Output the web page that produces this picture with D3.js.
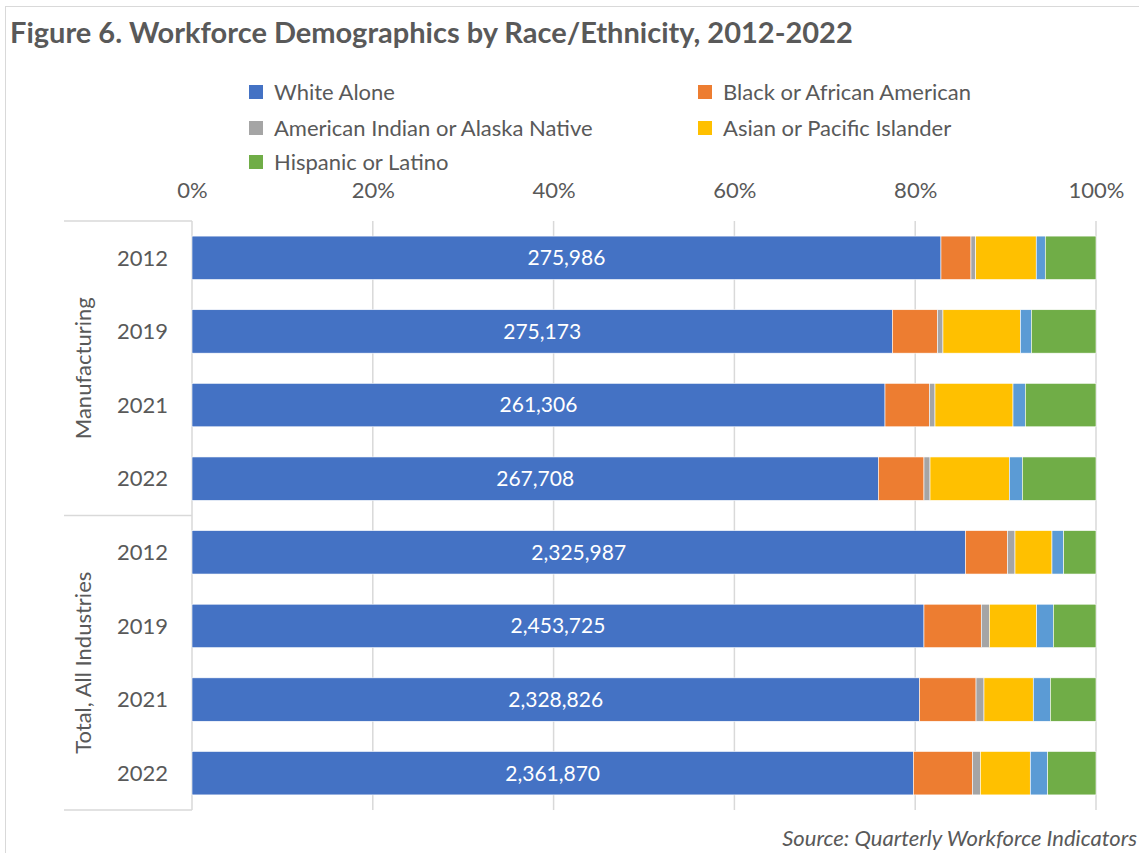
<!DOCTYPE html>
<html>
<head>
<meta charset="utf-8">
<script src="https://cdn.jsdelivr.net/npm/d3@7"></script>
<style>
  body { margin: 0; background: #fff; }
  svg text { font-family: Lato, "Open Sans", sans-serif; fill: #595959; }
</style>
</head>
<body>
<div id="chart"></div>
<script>
// rows, top to bottom
var groups = ["Manufacturing", "Total, All Industries"];
var rowYears = ["2012", "2019", "2021", "2022", "2012", "2019", "2021", "2022"];

// share of workforce, percent
var seriesNames = ["White Alone", "Black or African American", "American Indian or Alaska Native",
                   "Asian or Pacific Islander", "Two or More Races", "Hispanic or Latino"];
var white    = [82.85, 77.47, 76.66, 75.92, 85.55, 80.97, 80.46, 79.79];
var black    = [3.32, 4.98, 4.90, 5.05, 4.65, 6.34, 6.27, 6.53];
var amInd    = [0.52, 0.62, 0.63, 0.67, 0.84, 0.89, 0.88, 0.89];
var asian    = [6.70, 8.56, 8.63, 8.77, 4.09, 5.23, 5.45, 5.52];
var twoMore  = [1.00, 1.22, 1.36, 1.44, 1.29, 1.85, 1.89, 1.92];
var hispanic = [5.61, 7.15, 7.82, 8.15, 3.58, 4.72, 5.05, 5.35];
var whiteCounts = ["275,986", "275,173", "261,306", "267,708", "2,325,987", "2,453,725", "2,328,826", "2,361,870"];
var colors = ["#4472C4", "#ED7D31", "#A5A5A5", "#FFC000", "#5B9BD5", "#70AD47"];
var legendNames = ["White Alone", "Black or African American", "American Indian or Alaska Native",
                   "Asian or Pacific Islander", "Hispanic or Latino"];
var xTicks = [0, 20, 40, 60, 80, 100];

var width = 1139, height = 853;
var margin = { top: 221, left: 192, right: 43, bottom: 43 };

var svg = d3.select("#chart").append("svg")
  .attr("width", width)
  .attr("height", height);

// outer border
svg.append("rect")
  .attr("x", 5.5).attr("y", 6.5)
  .attr("width", width - 4).attr("height", height)
  .attr("fill", "none")
  .attr("stroke", "#d9d9d9");

svg.append("text")
  .attr("x", 10).attr("y", 43)
  .style("font-size", "29px")
  .style("font-weight", "bold")
  .text("Figure 6. Workforce Demographics by Race/Ethnicity, 2012-2022");

// legend
var legendPos = [[249, 92], [698, 92], [249, 128], [698, 128], [249, 162]];
var legendColors = [colors[0], colors[1], colors[2], colors[3], colors[5]];
var leg = svg.append("g").selectAll("g")
  .data(legendNames)
  .enter().append("g")
  .attr("transform", function(d, i) { return "translate(" + legendPos[i][0] + "," + legendPos[i][1] + ")"; });
leg.append("rect")
  .attr("x", 0).attr("y", -7)
  .attr("width", 14).attr("height", 14)
  .attr("fill", function(d, i) { return legendColors[i]; });
leg.append("text")
  .attr("x", 25).attr("y", 0)
  .attr("dy", "0.35em")
  .style("font-size", "22px")
  .text(function(d) { return d; });

// scales
var x = d3.scaleLinear().domain([0, 100]).range([margin.left, width - margin.right]);
var y = d3.scaleBand()
  .domain(d3.range(rowYears.length))
  .range([margin.top, height - margin.bottom])
  .paddingInner(0.41)
  .paddingOuter(0.205);

// gridlines
svg.append("g").selectAll("line")
  .data(xTicks)
  .enter().append("line")
  .attr("x1", function(d) { return x(d); })
  .attr("x2", function(d) { return x(d); })
  .attr("y1", margin.top)
  .attr("y2", height - margin.bottom)
  .attr("stroke", "#d9d9d9")
  .attr("stroke-width", 1.5);

// top axis labels
var xAxis = svg.append("g")
  .attr("transform", "translate(0," + (margin.top - 31) + ")")
  .call(d3.axisTop(x).tickValues(xTicks).tickSize(0).tickFormat(function(d) { return d + "%"; }));
xAxis.select(".domain").remove();
xAxis.selectAll("text")
  .attr("dy", "0.35em")
  .attr("y", 0)
  .style("font-size", "22px")
  .style("font-family", "Lato, 'Open Sans', sans-serif")
  .attr("fill", "#595959");

// stacked bars
var rows = d3.range(rowYears.length).map(function(i) {
  return { white: white[i], black: black[i], amInd: amInd[i], asian: asian[i], twoMore: twoMore[i], hispanic: hispanic[i] };
});
var keys = ["white", "black", "amInd", "asian", "twoMore", "hispanic"];
var stacked = d3.stack().keys(keys)(rows);

var layer = svg.append("g").selectAll("g")
  .data(stacked)
  .enter().append("g")
  .attr("fill", function(d, i) { return colors[i]; });
layer.selectAll("rect")
  .data(function(d) { return d; })
  .enter().append("rect")
  .attr("x", function(d) { return x(d[0]); })
  .attr("width", function(d) { return x(d[1]) - x(d[0]); })
  .attr("y", function(d, i) { return y(i); })
  .attr("height", y.bandwidth())
  .attr("stroke", "#fff")
  .attr("stroke-width", 0.6);

// labels in the white segment
svg.append("g").selectAll("text")
  .data(stacked[0])
  .enter().append("text")
  .attr("x", function(d) { return (x(d[0]) + x(d[1])) / 2; })
  .attr("y", function(d, i) { return y(i) + y.bandwidth() / 2; })
  .attr("dy", "0.35em")
  .attr("text-anchor", "middle")
  .style("font-size", "21px")
  .style("fill", "#fff")
  .text(function(d, i) { return whiteCounts[i]; });

// category axis: years
svg.append("g").selectAll("text")
  .data(rowYears)
  .enter().append("text")
  .attr("x", 168)
  .attr("y", function(d, i) { return y(i) + y.bandwidth() / 2; })
  .attr("dy", "0.35em")
  .attr("text-anchor", "end")
  .style("font-size", "22px")
  .text(function(d) { return d; });

// group separators and labels
var step = y.step();
var groupEdges = [margin.top, margin.top + step * 4, height - margin.bottom];
svg.append("g").selectAll("line")
  .data(groupEdges)
  .enter().append("line")
  .attr("x1", 64).attr("x2", margin.left)
  .attr("y1", function(d) { return d; })
  .attr("y2", function(d) { return d; })
  .attr("stroke", "#d9d9d9")
  .attr("stroke-width", 1.5);

svg.append("g").selectAll("text")
  .data(groups)
  .enter().append("text")
  .attr("transform", function(d, i) {
    var cy = (groupEdges[i] + groupEdges[i + 1]) / 2;
    return "translate(83," + cy + ") rotate(-90)";
  })
  .attr("dy", "0.35em")
  .attr("text-anchor", "middle")
  .style("font-size", "22px")
  .text(function(d) { return d; });

svg.append("text")
  .attr("x", 1137).attr("y", 838)
  .attr("dy", "0.35em")
  .attr("text-anchor", "end")
  .style("font-size", "22px")
  .style("font-style", "italic")
  .text("Source: Quarterly Workforce Indicators");
</script>
</body>
</html>
